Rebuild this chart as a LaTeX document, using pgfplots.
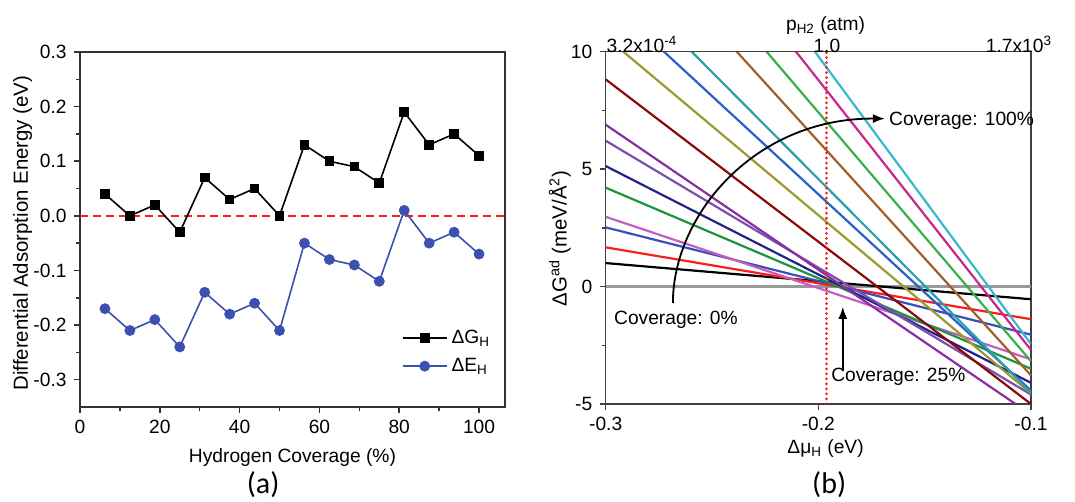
\documentclass[border=0pt]{standalone}
\usepackage{fontspec}
\setmainfont{Liberation Sans}
\newfontfamily\carlito{Carlito}
\usepackage{pgfplots}
\pgfplotsset{compat=1.18}
\usetikzlibrary{arrows.meta}
\newcommand\fs{\fontsize{9.6}{11.5}\selectfont}
\newcommand\fl{\fontsize{10.2}{12}\selectfont}
\definecolor{cblue}{RGB}{60,80,175}
\definecolor{lred}{RGB}{250,30,30}
\definecolor{lroyal}{RGB}{58,79,184}
\definecolor{lorchid}{RGB}{196,94,196}
\definecolor{lgreen}{RGB}{26,150,58}
\definecolor{lnavy}{RGB}{34,34,138}
\definecolor{lpurple}{RGB}{122,79,176}
\definecolor{lviolet}{RGB}{138,46,160}
\definecolor{lmaroon}{RGB}{138,10,10}
\definecolor{lolive}{RGB}{154,154,48}
\definecolor{lblue}{RGB}{42,96,200}
\definecolor{lteal}{RGB}{42,160,168}
\definecolor{lbrown}{RGB}{160,96,42}
\definecolor{lgreen2}{RGB}{58,176,74}
\definecolor{lmagenta}{RGB}{200,40,138}
\definecolor{lcyan}{RGB}{56,184,208}
\pgfplotsset{
  every axis/.append style={font=\fs, line width=0.75pt},
  every axis plot/.append style={line width=1.1pt},
}
\begin{document}
\begin{tikzpicture}[x=1pt,y=1pt]
\useasboundingbox (-40,-47.5) rectangle (497.5,203.5);
% ---------------- panel (a)
\begin{axis}[
  at={(0pt,0pt)}, anchor=south west, clip mode=individual,
  scale only axis, width=212.5pt, height=177.5pt,
  xmin=0, xmax=106.5, ymin=-0.35, ymax=0.3,
  xtick={0,20,40,60,80,100}, minor x tick num=1,
  ytick={-0.3,-0.2,-0.1,0,0.1,0.2,0.3}, minor y tick num=1,
  xtick pos=bottom, ytick pos=left, tick align=outside,
  major tick length=3pt, minor tick length=1.8pt,
  axis line style={black!80},
  every tick/.style={black!80, line width=0.75pt},
  /pgf/number format/assume math mode=true,
  yticklabel style={/pgf/number format/.cd, fixed, fixed zerofill, precision=1},
  xlabel={Hydrogen Coverage (\%)},
  ylabel={Differential Adsorption Energy (eV)},
  ylabel style={at={(axis description cs:-0.1353,0.49)}, anchor=center, font=\fl},
  legend style={draw=none, fill=none, at={(0.99,0.155)}, anchor=east, row sep=2pt, font=\fs},
  legend cell align=left,
  legend image code/.code={\draw[mark repeat=2,mark phase=2,#1] plot coordinates {(0pt,0pt) (11pt,0pt) (22pt,0pt)};},
]
\addplot[lred, line width=0.9pt, dash pattern=on 4pt off 2.5pt, forget plot] coordinates {(0,0) (106.5,0)};
\addplot[black, line width=0.8pt, mark=square*, mark size=2pt] coordinates {
(6.25,0.04) (12.5,0.00) (18.75,0.02) (25,-0.03) (31.25,0.07) (37.5,0.03) (43.75,0.05) (50,0.00)
(56.25,0.13) (62.5,0.10) (68.75,0.09) (75,0.06) (81.25,0.19) (87.5,0.13) (93.75,0.15) (100,0.11)};
\addlegendentry{ΔG\textsubscript{H}}
\addplot[cblue, line width=0.8pt, mark=*, mark size=2.3pt] coordinates {
(6.25,-0.17) (12.5,-0.21) (18.75,-0.19) (25,-0.24) (31.25,-0.14) (37.5,-0.18) (43.75,-0.16) (50,-0.21)
(56.25,-0.05) (62.5,-0.08) (68.75,-0.09) (75,-0.12) (81.25,0.01) (87.5,-0.05) (93.75,-0.03) (100,-0.07)};
\addlegendentry{ΔE\textsubscript{H}}
\node[font={\carlito\fontsize{15}{18}\selectfont}] at (axis description cs:0.431,0) [yshift=-39pt] {(a)};
\end{axis}
% ---------------- panel (b)
\begin{axis}[
  at={(262.85pt,1.5pt)}, anchor=south west, clip mode=individual,
  scale only axis, width=212.65pt, height=176.15pt,
  xmin=-0.3, xmax=-0.1, ymin=-5, ymax=10,
  xtick={-0.3,-0.2,-0.1}, ytick={-5,0,5,10}, minor y tick num=1,
  xtick pos=bottom, ytick pos=left, tick align=outside,
  major tick length=3pt, minor tick length=1.8pt,
  axis line style={black!75},
  every tick/.style={black!75, line width=0.75pt},
  /pgf/number format/assume math mode=true,
  xticklabel style={/pgf/number format/.cd, fixed, fixed zerofill, precision=1},
  xlabel={Δμ\textsubscript{H} (eV)},
  xlabel style={at={(axis description cs:0.517,0)}, anchor=north, yshift=-14pt},
  ylabel={ΔG\textsuperscript{ad} (meV/Å\textsuperscript{2})},
  ylabel style={at={(axis description cs:-0.108,0.47)}, anchor=center, font=\fl},
]
\addplot[black!40, line width=1.2pt] coordinates {(-0.3,0) (-0.1,0)};
\addplot[black] coordinates {(-0.3,1.00) (-0.1,-0.54)};
\addplot[lred] coordinates {(-0.3,1.67) (-0.1,-1.39)};
\addplot[lroyal] coordinates {(-0.3,2.52) (-0.1,-2.05)};
\addplot[lorchid] coordinates {(-0.3,2.97) (-0.1,-3.10)};
\addplot[lgreen] coordinates {(-0.3,4.21) (-0.1,-3.50)};
\addplot[lnavy] coordinates {(-0.3,5.13) (-0.1,-4.10)};
\addplot[lpurple] coordinates {(-0.3,6.21) (-0.1,-4.60)};
\addplot[lviolet] coordinates {(-0.3,6.89) (-0.1,-5.45)};
\addplot[lmaroon] coordinates {(-0.3,8.82) (-0.1,-5.00)};
\addplot[lolive] coordinates {(-0.3,10.63) (-0.1,-4.55)};
\addplot[lblue] coordinates {(-0.3,12.29) (-0.1,-4.43)};
\addplot[lteal] coordinates {(-0.3,13.68) (-0.1,-4.52)};
\addplot[lbrown] coordinates {(-0.3,16.14) (-0.1,-3.78)};
\addplot[lgreen2] coordinates {(-0.3,18.02) (-0.1,-3.18)};
\addplot[lmagenta] coordinates {(-0.3,20.29) (-0.1,-2.70)};
\addplot[lcyan] coordinates {(-0.3,22.05) (-0.1,-2.45)};
\addplot[lred, line width=1.5pt, line cap=round, dash pattern=on 0.01pt off 2.5pt] coordinates {(-0.196,-5) (-0.196,10)};
\draw[-{Latex[length=6pt,width=4.5pt]}, line width=0.9pt] (axis cs:-0.2684,-0.70) .. controls (axis cs:-0.2684,3.05) and (axis cs:-0.2298,7.18) .. (axis cs:-0.1687,7.15);
\node[anchor=west, inner sep=1pt] at (axis cs:-0.1680,7.05) {Coverage: 100\%};
\node[inner sep=1pt] at (axis cs:-0.267,-1.42) {Coverage: 0\%};
\draw[-{Latex[length=6pt,width=4.5pt]}, line width=0.9pt] (axis cs:-0.1885,-3.55) -- (axis cs:-0.1885,-0.86);
\node[inner sep=1pt] at (axis cs:-0.1624,-3.84) {Coverage: 25\%};
\node[font={\carlito\fontsize{15}{18}\selectfont}] at (axis description cs:0.5255,0) [yshift=-40.5pt] {(b)};
\end{axis}
% ---------------- top axis of (b)
\begin{axis}[
  at={(262.85pt,1.5pt)}, anchor=south west,
  scale only axis, width=212.65pt, height=176.15pt,
  xmin=-0.3, xmax=-0.1, ymin=0, ymax=1,
  axis x line*=top, axis y line=none,
  axis line style={black!75},
  xtick={-0.3,-0.196,-0.1},
  xticklabels={\makebox[0pt][l]{\hspace*{0.5pt}3.2x10\textsuperscript{-4}},1.0,\makebox[0pt][r]{1.7x10\textsuperscript{3}\hspace*{-10.5pt}}},
  major tick length=0pt,
  xticklabel style={anchor=south, inner sep=0pt, yshift=-1pt},
  xlabel={p\textsubscript{H2} (atm)},
  xlabel style={at={(axis description cs:0.517,1)}, anchor=base, yshift=10.5pt, inner sep=0pt},
]
\addplot[draw=none] coordinates {(-0.2,0.5)};
\end{axis}
\end{tikzpicture}
\end{document}
